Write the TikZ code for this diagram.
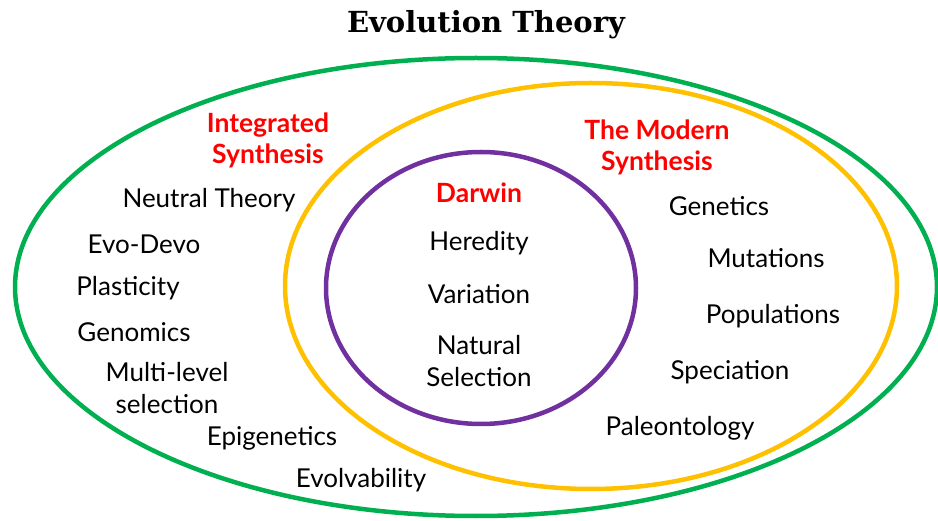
\documentclass[tikz,border=0pt]{standalone}
\usepackage{fontspec}
\setmainfont{Lato}
\newfontfamily\titlefont{DejaVu Serif}

\definecolor{ringgreen}{HTML}{00B050}
\definecolor{ringgold}{HTML}{FFC000}
\definecolor{ringpurple}{HTML}{7030A0}
\definecolor{headred}{HTML}{FF0000}

\begin{document}
\begin{tikzpicture}[
    x=1pt, y=-1pt,
    ring/.style={line width=4.5pt},
    item/.style={font=\fontsize{26}{32}\selectfont, align=center, inner sep=0pt},
    head/.style={item, font=\fontsize{26.5}{31}\selectfont\bfseries, text=headred}
  ]
    \useasboundingbox (0,0) rectangle (938,521);

    % the three nested theories
    \draw[ring, ringgreen]  (476,287) ellipse [x radius=461, y radius=229];
    \draw[ring, ringgold]   (591,286) ellipse [x radius=306, y radius=203];
    \draw[ring, ringpurple] (481,288) ellipse [x radius=155, y radius=136];

    \node[font=\fontsize{29}{29}\selectfont\titlefont\bfseries] (title) at (486,25) {Evolution Theory};

    % outer ring
    \node[head] (integrated) at (268,140) {Integrated\\Synthesis};
    \node[item] (neutral) at (209,200) {Neutral Theory};
    \node[item] (evodevo) at (144,244) {Evo-Devo};
    \node[item] (plastic) at (128,288) {Plasticity};
    \node[item] (genomics) at (134,332) {Genomics};
    \node[item] (multilevel) at (167,388) {Multi-level\\selection};
    \node[item] (epigen) at (272,438) {Epigenetics};
    \node[item] (evolvab) at (361,480) {Evolvability};

    % middle ring
    \node[head] (modern) at (657,147) {The Modern\\Synthesis};
    \node[item] (genetics) at (719,206) {Genetics};
    \node[item] (mutations) at (766,258) {Mutations};
    \node[item] (popul) at (773,316) {Populations};
    \node[item] (speciation) at (730,372) {Speciation};
    \node[item] (paleo) at (680,428) {Paleontology};

    % inner ring
    \node[head] (darwin) at (479,193) {Darwin};
    \node[item] (heredity) at (479,243) {Heredity};
    \node[item] (variation) at (479,294) {Variation};
    \node[item] (natsel) at (479,361) {Natural\\Selection};
  \end{tikzpicture}
\end{document}
